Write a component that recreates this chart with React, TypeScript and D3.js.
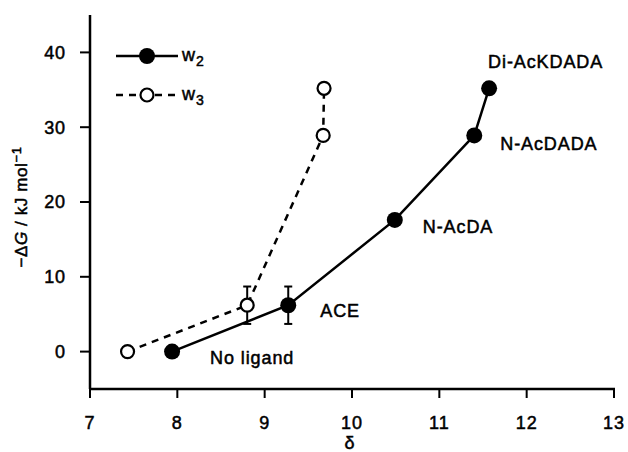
import React, { useRef, useEffect } from 'react';
import * as d3 from 'd3';

const w2Delta = [7.94, 9.27, 10.49, 11.4, 11.57];
const w2Energy = [0, 6.2, 17.6, 28.9, 35.2];
const w2Err = [0, 2.5, 0, 0, 0];

const w3Delta = [7.43, 8.8, 9.67, 9.68];
const w3Energy = [0, 6.2, 28.9, 35.2];
const w3Err = [0, 2.5, 0, 0];

const pointLabels = ['No ligand', 'ACE', 'N-AcDA', 'N-AcDADA', 'Di-AcKDADA'];
const xTicks = [7, 8, 9, 10, 11, 12, 13];
const yTicks = [0, 10, 20, 30, 40];

const W = 628;
const H = 452;
const FONT = '"Liberation Sans", Arial, sans-serif';

const App = () => {
  const svgRef = useRef(null);

  useEffect(() => {
    const svg = d3.select(svgRef.current);
    svg.selectAll('*').remove();

    const x = d3.scaleLinear().domain([7, 13]).range([90, 614]);
    const y = d3.scaleLinear().domain([-5, 45]).range([389, 15]);

    const txt = sel => sel.attr('font-family', FONT).attr('font-size', 18)
      .attr('letter-spacing', 0.9).attr('stroke', '#000').attr('stroke-width', 0.5).attr('fill', '#000');

    // axes
    svg.append('line').attr('x1', 90).attr('x2', 90).attr('y1', y(45)).attr('y2', y(-5))
      .attr('stroke', '#000').attr('stroke-width', 2.5);
    svg.append('line').attr('x1', 89).attr('x2', x(13) + 1).attr('y1', y(-5)).attr('y2', y(-5))
      .attr('stroke', '#000').attr('stroke-width', 2.5);

    svg.selectAll('.xt').data(xTicks).join('line')
      .attr('x1', d => x(d)).attr('x2', d => x(d))
      .attr('y1', y(-5)).attr('y2', y(-5) + 9)
      .attr('stroke', '#000').attr('stroke-width', 2);
    svg.selectAll('.xl').data(xTicks).join('text')
      .attr('x', d => x(d)).attr('y', y(-5) + 40)
      .attr('text-anchor', 'middle').call(txt)
      .text(d => d);

    svg.selectAll('.yt').data(yTicks).join('line')
      .attr('x1', 90).attr('x2', 80)
      .attr('y1', d => y(d)).attr('y2', d => y(d))
      .attr('stroke', '#000').attr('stroke-width', 2);
    svg.selectAll('.yl').data(yTicks).join('text')
      .attr('x', 66).attr('y', d => y(d)).attr('dy', '0.36em')
      .attr('text-anchor', 'end').call(txt)
      .text(d => d);

    // axis titles
    svg.append('text').attr('x', x(10) - 2).attr('y', 449)
      .attr('text-anchor', 'middle').call(txt)
      .text('δ');
    const yt = svg.append('text')
      .attr('transform', 'translate(27,207) rotate(-90)')
      .attr('text-anchor', 'middle').call(txt).attr('font-size', 17).attr('letter-spacing', 0.6);
    yt.append('tspan').text('−Δ');
    yt.append('tspan').attr('font-style', 'italic').text('G');
    yt.append('tspan').text(' / kJ mol');
    yt.append('tspan').attr('dy', -6).attr('font-size', 13).text('−1');

    const line = d3.line().x(d => x(d[0])).y(d => y(d[1]));
    const w2 = w2Delta.map((d, i) => [d, w2Energy[i], w2Err[i]]);
    const w3 = w3Delta.map((d, i) => [d, w3Energy[i], w3Err[i]]);

    svg.append('path').datum(w3).attr('d', line).attr('fill', 'none')
      .attr('stroke', '#000').attr('stroke-width', 2.5).attr('stroke-dasharray', '7,6');
    svg.append('path').datum(w2).attr('d', line).attr('fill', 'none')
      .attr('stroke', '#000').attr('stroke-width', 2.5);

    const errs = [...w2, ...w3].filter(d => d[2] > 0);
    errs.forEach(d => {
      const cx = x(d[0]);
      const g = svg.append('g').attr('stroke', '#000').attr('stroke-width', 2);
      g.append('line').attr('x1', cx).attr('x2', cx).attr('y1', y(d[1] + d[2])).attr('y2', y(d[1] - d[2]));
      g.append('line').attr('x1', cx - 4).attr('x2', cx + 4).attr('y1', y(d[1] + d[2])).attr('y2', y(d[1] + d[2]));
      g.append('line').attr('x1', cx - 4).attr('x2', cx + 4).attr('y1', y(d[1] - d[2])).attr('y2', y(d[1] - d[2]));
    });

    svg.selectAll('.p3').data(w3).join('circle')
      .attr('cx', d => x(d[0])).attr('cy', d => y(d[1])).attr('r', 6.5)
      .attr('fill', '#fff').attr('stroke', '#000').attr('stroke-width', 2.2);
    svg.selectAll('.p2').data(w2).join('circle')
      .attr('cx', d => x(d[0])).attr('cy', d => y(d[1])).attr('r', 8)
      .attr('fill', '#000');

    // point labels
    const labelOffsets = [[38, 6], [32, 5], [28, 7], [26, 8], [-1, -27]];
    svg.selectAll('.pl').data(w2).join('text')
      .attr('x', (d, i) => x(d[0]) + labelOffsets[i][0])
      .attr('y', (d, i) => y(d[1]) + labelOffsets[i][1])
      .attr('dy', '0.36em')
      .call(txt)
      .text((d, i) => pointLabels[i]);

    // legend
    const lg = [
      { name: '2', y: 56, dash: null, fill: '#000', r: 8 },
      { name: '3', y: 95, dash: '7,6', fill: '#fff', r: 6.5 },
    ];
    lg.forEach(l => {
      svg.append('line').attr('x1', 116).attr('x2', 178).attr('y1', l.y).attr('y2', l.y)
        .attr('stroke', '#000').attr('stroke-width', 2.5).attr('stroke-dasharray', l.dash);
      svg.append('circle').attr('cx', 147).attr('cy', l.y).attr('r', l.r)
        .attr('fill', l.fill).attr('stroke', '#000').attr('stroke-width', l.fill === '#fff' ? 2.2 : 0);
      const t = svg.append('text').attr('x', 182).attr('y', l.y + 5).call(txt);
      t.append('tspan').text('w');
      t.append('tspan').attr('dy', 5).attr('font-size', 14).text(l.name);
    });
  }, []);

  return (
    <svg ref={svgRef} width={W} height={H}
      style={{ position: 'absolute', left: 0, top: 0, background: '#fff' }} />
  );
};

export default App;
